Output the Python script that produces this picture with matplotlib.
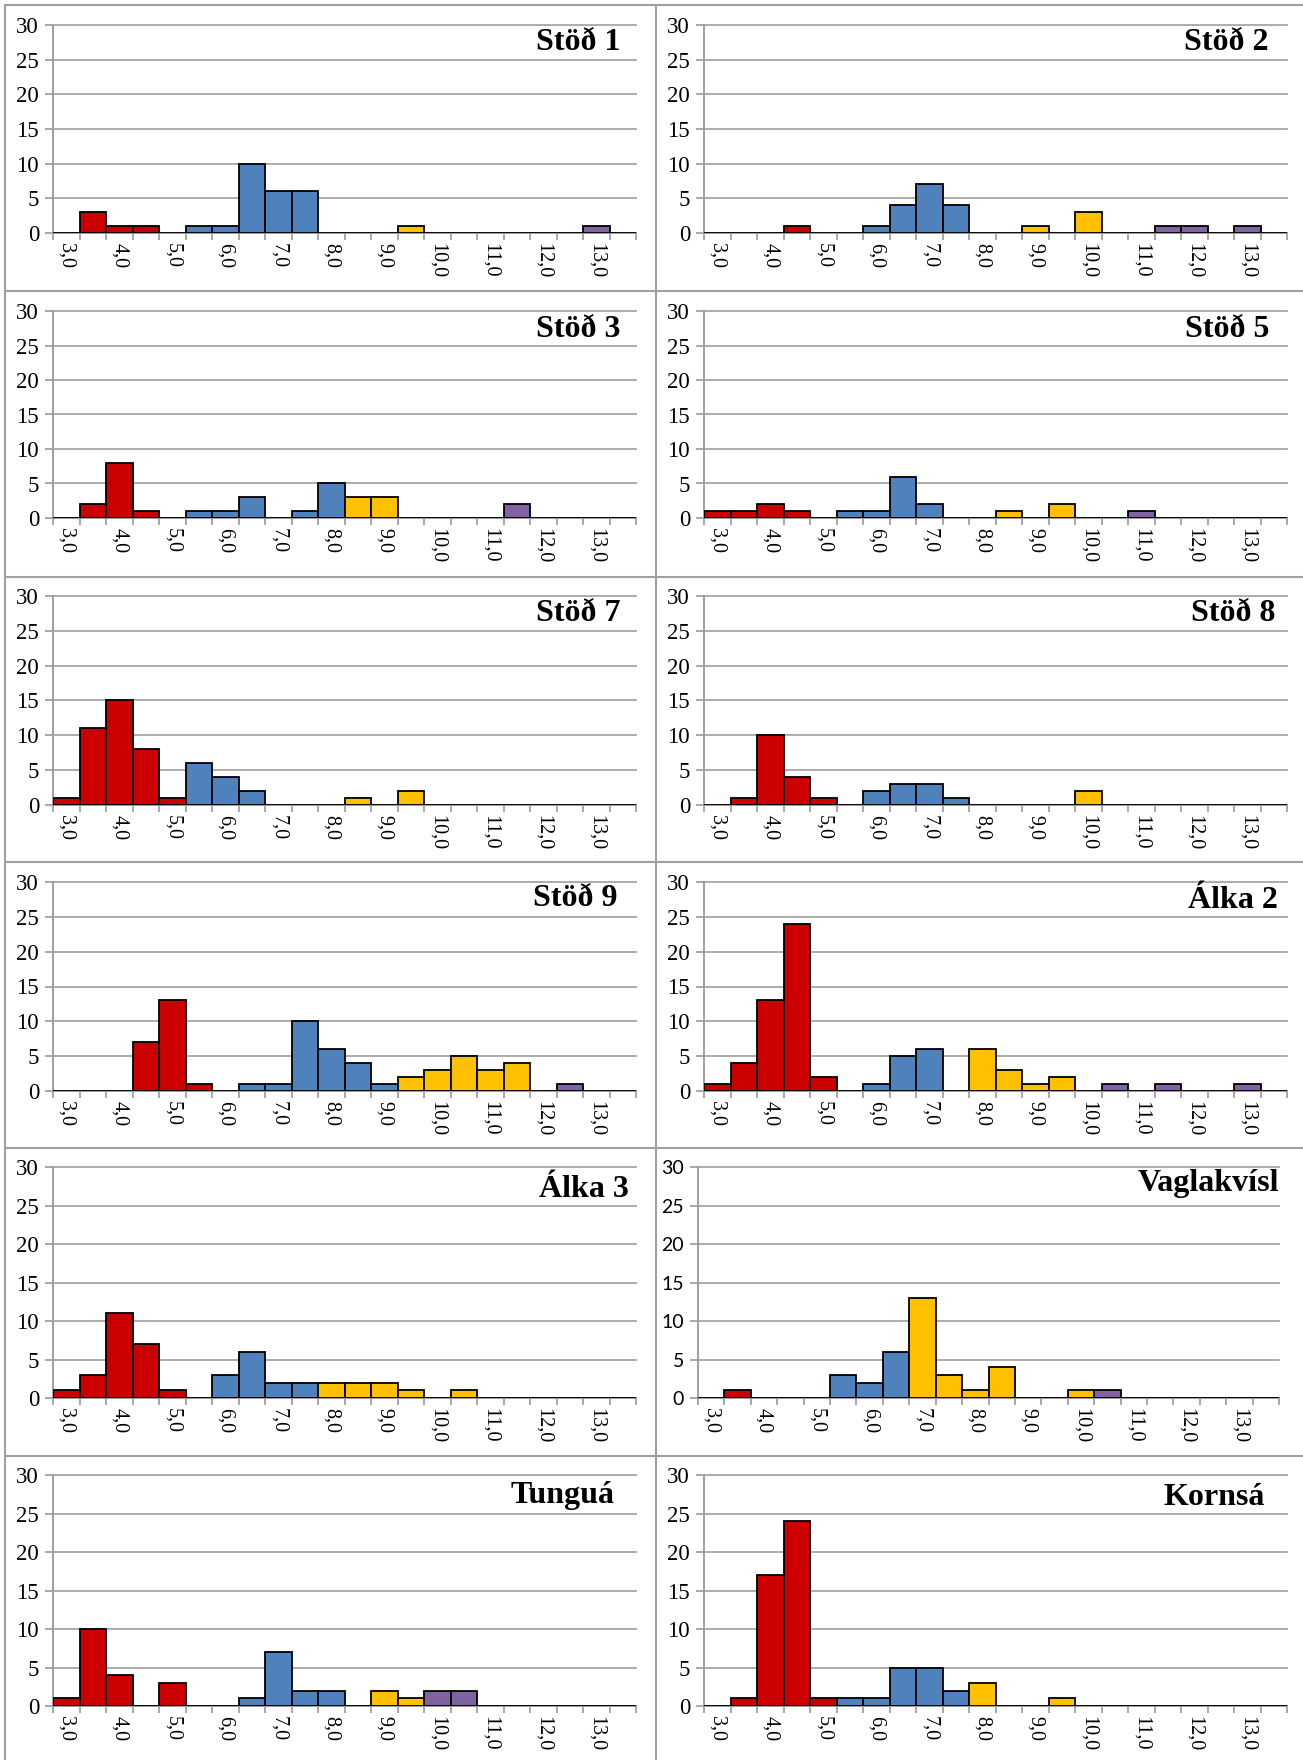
import numpy as np
import matplotlib
matplotlib.use("Agg")
import matplotlib.pyplot as plt
from matplotlib.lines import Line2D

# length classes 3,0 ... 13,5 (bins of 0,5)
categories = np.arange(3.0, 14.0, 0.5)
tick_labels = [("%.1f" % c).replace(".", ",") for c in categories]

# counts per bin and colour group per bin (R/B/Y/P, "." = empty)
stod1_counts = [0, 3, 1, 1, 0, 1, 1, 10, 6, 6, 0, 0, 0, 1, 0, 0, 0, 0, 0, 0, 1, 0]
stod1_groups = ".RRR.BBBBB...Y......P."
stod2_counts = [0, 0, 0, 1, 0, 0, 1, 4, 7, 4, 0, 0, 1, 0, 3, 0, 0, 1, 1, 0, 1, 0]
stod2_groups = "...R..BBBB..Y.Y..PP.P."
stod3_counts = [0, 2, 8, 1, 0, 1, 1, 3, 0, 1, 5, 3, 3, 0, 0, 0, 0, 2, 0, 0, 0, 0]
stod3_groups = ".RRR.BBB.BBYY....P...."
stod5_counts = [1, 1, 2, 1, 0, 1, 1, 6, 2, 0, 0, 1, 0, 2, 0, 0, 1, 0, 0, 0, 0, 0]
stod5_groups = "RRRR.BBBB..Y.Y..P....."
stod7_counts = [1, 11, 15, 8, 1, 6, 4, 2, 0, 0, 0, 1, 0, 2, 0, 0, 0, 0, 0, 0, 0, 0]
stod7_groups = "RRRRRBBB...Y.Y........"
stod8_counts = [0, 1, 10, 4, 1, 0, 2, 3, 3, 1, 0, 0, 0, 0, 2, 0, 0, 0, 0, 0, 0, 0]
stod8_groups = ".RRRR.BBBB....Y......."
stod9_counts = [0, 0, 0, 7, 13, 1, 0, 1, 1, 10, 6, 4, 1, 2, 3, 5, 3, 4, 0, 1, 0, 0]
stod9_groups = "...RRR.BBBBBBYYYYY.P.."
alka2_counts = [1, 4, 13, 24, 2, 0, 1, 5, 6, 0, 6, 3, 1, 2, 0, 1, 0, 1, 0, 0, 1, 0]
alka2_groups = "RRRRR.BBB.YYYY.P.P..P."
alka3_counts = [1, 3, 11, 7, 1, 0, 3, 6, 2, 2, 2, 2, 2, 1, 0, 1, 0, 0, 0, 0, 0, 0]
alka3_groups = "RRRRR.BBBBYYYY.Y......"
vagl_counts = [0, 1, 0, 0, 0, 3, 2, 6, 13, 3, 1, 4, 0, 0, 1, 1, 0, 0, 0, 0, 0, 0]
vagl_groups = ".R...BBBYYYY..YP......"
tungua_counts = [1, 10, 4, 0, 3, 0, 0, 1, 7, 2, 2, 0, 2, 1, 2, 2, 0, 0, 0, 0, 0, 0]
tungua_groups = "RRR.R..BBBB.YYPP......"
kornsa_counts = [0, 1, 17, 24, 1, 1, 1, 5, 5, 2, 3, 0, 0, 1, 0, 0, 0, 0, 0, 0, 0, 0]
kornsa_groups = ".RRRRBBBBBY..Y........"

names = ["Stöð 1", "Stöð 2", "Stöð 3", "Stöð 5", "Stöð 7", "Stöð 8",
         "Stöð 9", "Álka 2", "Álka 3", "Vaglakvísl", "Tunguá", "Kornsá"]
counts = [stod1_counts, stod2_counts, stod3_counts, stod5_counts, stod7_counts,
          stod8_counts, stod9_counts, alka2_counts, alka3_counts, vagl_counts,
          tungua_counts, kornsa_counts]
groups = [stod1_groups, stod2_groups, stod3_groups, stod5_groups, stod7_groups,
          stod8_groups, stod9_groups, alka2_groups, alka3_groups, vagl_groups,
          tungua_groups, kornsa_groups]

colors = {"R": "#CC0000", "B": "#4F81BD", "Y": "#FFC000", "P": "#8064A2", ".": "none"}

W, H = 1303, 1760
fig = plt.figure(figsize=(W / 100, H / 100), dpi=100)

# plot areas in pixels: (left, right, top of 30-line, zero line)
rows = [(25, 233), (311, 518), (596, 805), (882, 1091), (1167, 1398), (1475, 1706)]
cols = [(53, 636), (704, 1287)]
# title anchor (right edge, vertical centre) in axes fractions
title_pos = [(0.973, 0.914), (0.969, 0.914), (0.973, 0.913), (0.969, 0.913),
             (0.973, 0.914), (0.981, 0.914), (0.969, 0.92), (0.985, 0.91),
             (0.988, 0.903), (1.0, 0.927), (0.963, 0.913), (0.962, 0.903)]

grey = "#999999"
serif = "Liberation Serif"

for k, name in enumerate(names):
    r, c = divmod(k, 2)
    x0, x1 = cols[c]
    if name == "Vaglakvísl":
        x0, x1 = 698, 1279
    yt, yb = rows[r]
    ax = fig.add_axes([x0 / W, 1 - yb / H, (x1 - x0) / W, (yb - yt) / H])

    xs = np.arange(len(categories)) + 0.5
    ax.bar(xs, counts[k], width=1.0,
           color=[colors[g] for g in groups[k]],
           edgecolor="black", linewidth=1.3, zorder=3)

    ax.set_xlim(0, len(categories))
    ax.set_ylim(0, 30)
    ax.set_yticks(range(0, 31, 5))
    ax.set_axisbelow(True)
    ax.yaxis.grid(True, color="#A6A6A6", linewidth=1.3)
    for gl in ax.get_ygridlines():
        gl.set_clip_on(False)

    ax.set_xticks(xs[::2])
    ax.set_xticklabels(tick_labels[::2], rotation=-90, va="top", ha="center")
    ax.set_xticks(np.arange(len(categories) + 1), minor=True)
    ax.tick_params(axis="x", which="major", length=0, pad=7,
                   labelsize=14.5, labelfontfamily=serif)
    ax.tick_params(axis="x", which="minor", length=5, color=grey, width=1.2)
    if name == "Vaglakvísl":
        ax.tick_params(axis="y", length=6, color=grey, width=1.2, pad=4,
                       labelsize=14, labelfontfamily="Lato")
    else:
        ax.tick_params(axis="y", length=6, color=grey, width=1.2, pad=4,
                       labelsize=16.5, labelfontfamily=serif)

    for s in ["top", "right"]:
        ax.spines[s].set_visible(False)
    for s in ["left", "bottom"]:
        ax.spines[s].set_color(grey)
        ax.spines[s].set_linewidth(1.3)

    tx, ty = title_pos[k]
    ax.text(tx, ty, name, transform=ax.transAxes, ha="right", va="center",
            fontsize=23, fontweight="bold", family=serif, zorder=5)

# table borders around the panels
border = dict(color="#A0A0A0", linewidth=1.5)
for y in [5, 291, 577, 862, 1148, 1456]:
    fig.add_artist(Line2D([5 / W, 1.0], [1 - y / H, 1 - y / H], **border))
for x in [5, 656]:
    fig.add_artist(Line2D([x / W, x / W], [1 - 5 / H, 0.0], **border))

fig.savefig("out.png", dpi=100, facecolor="white")
